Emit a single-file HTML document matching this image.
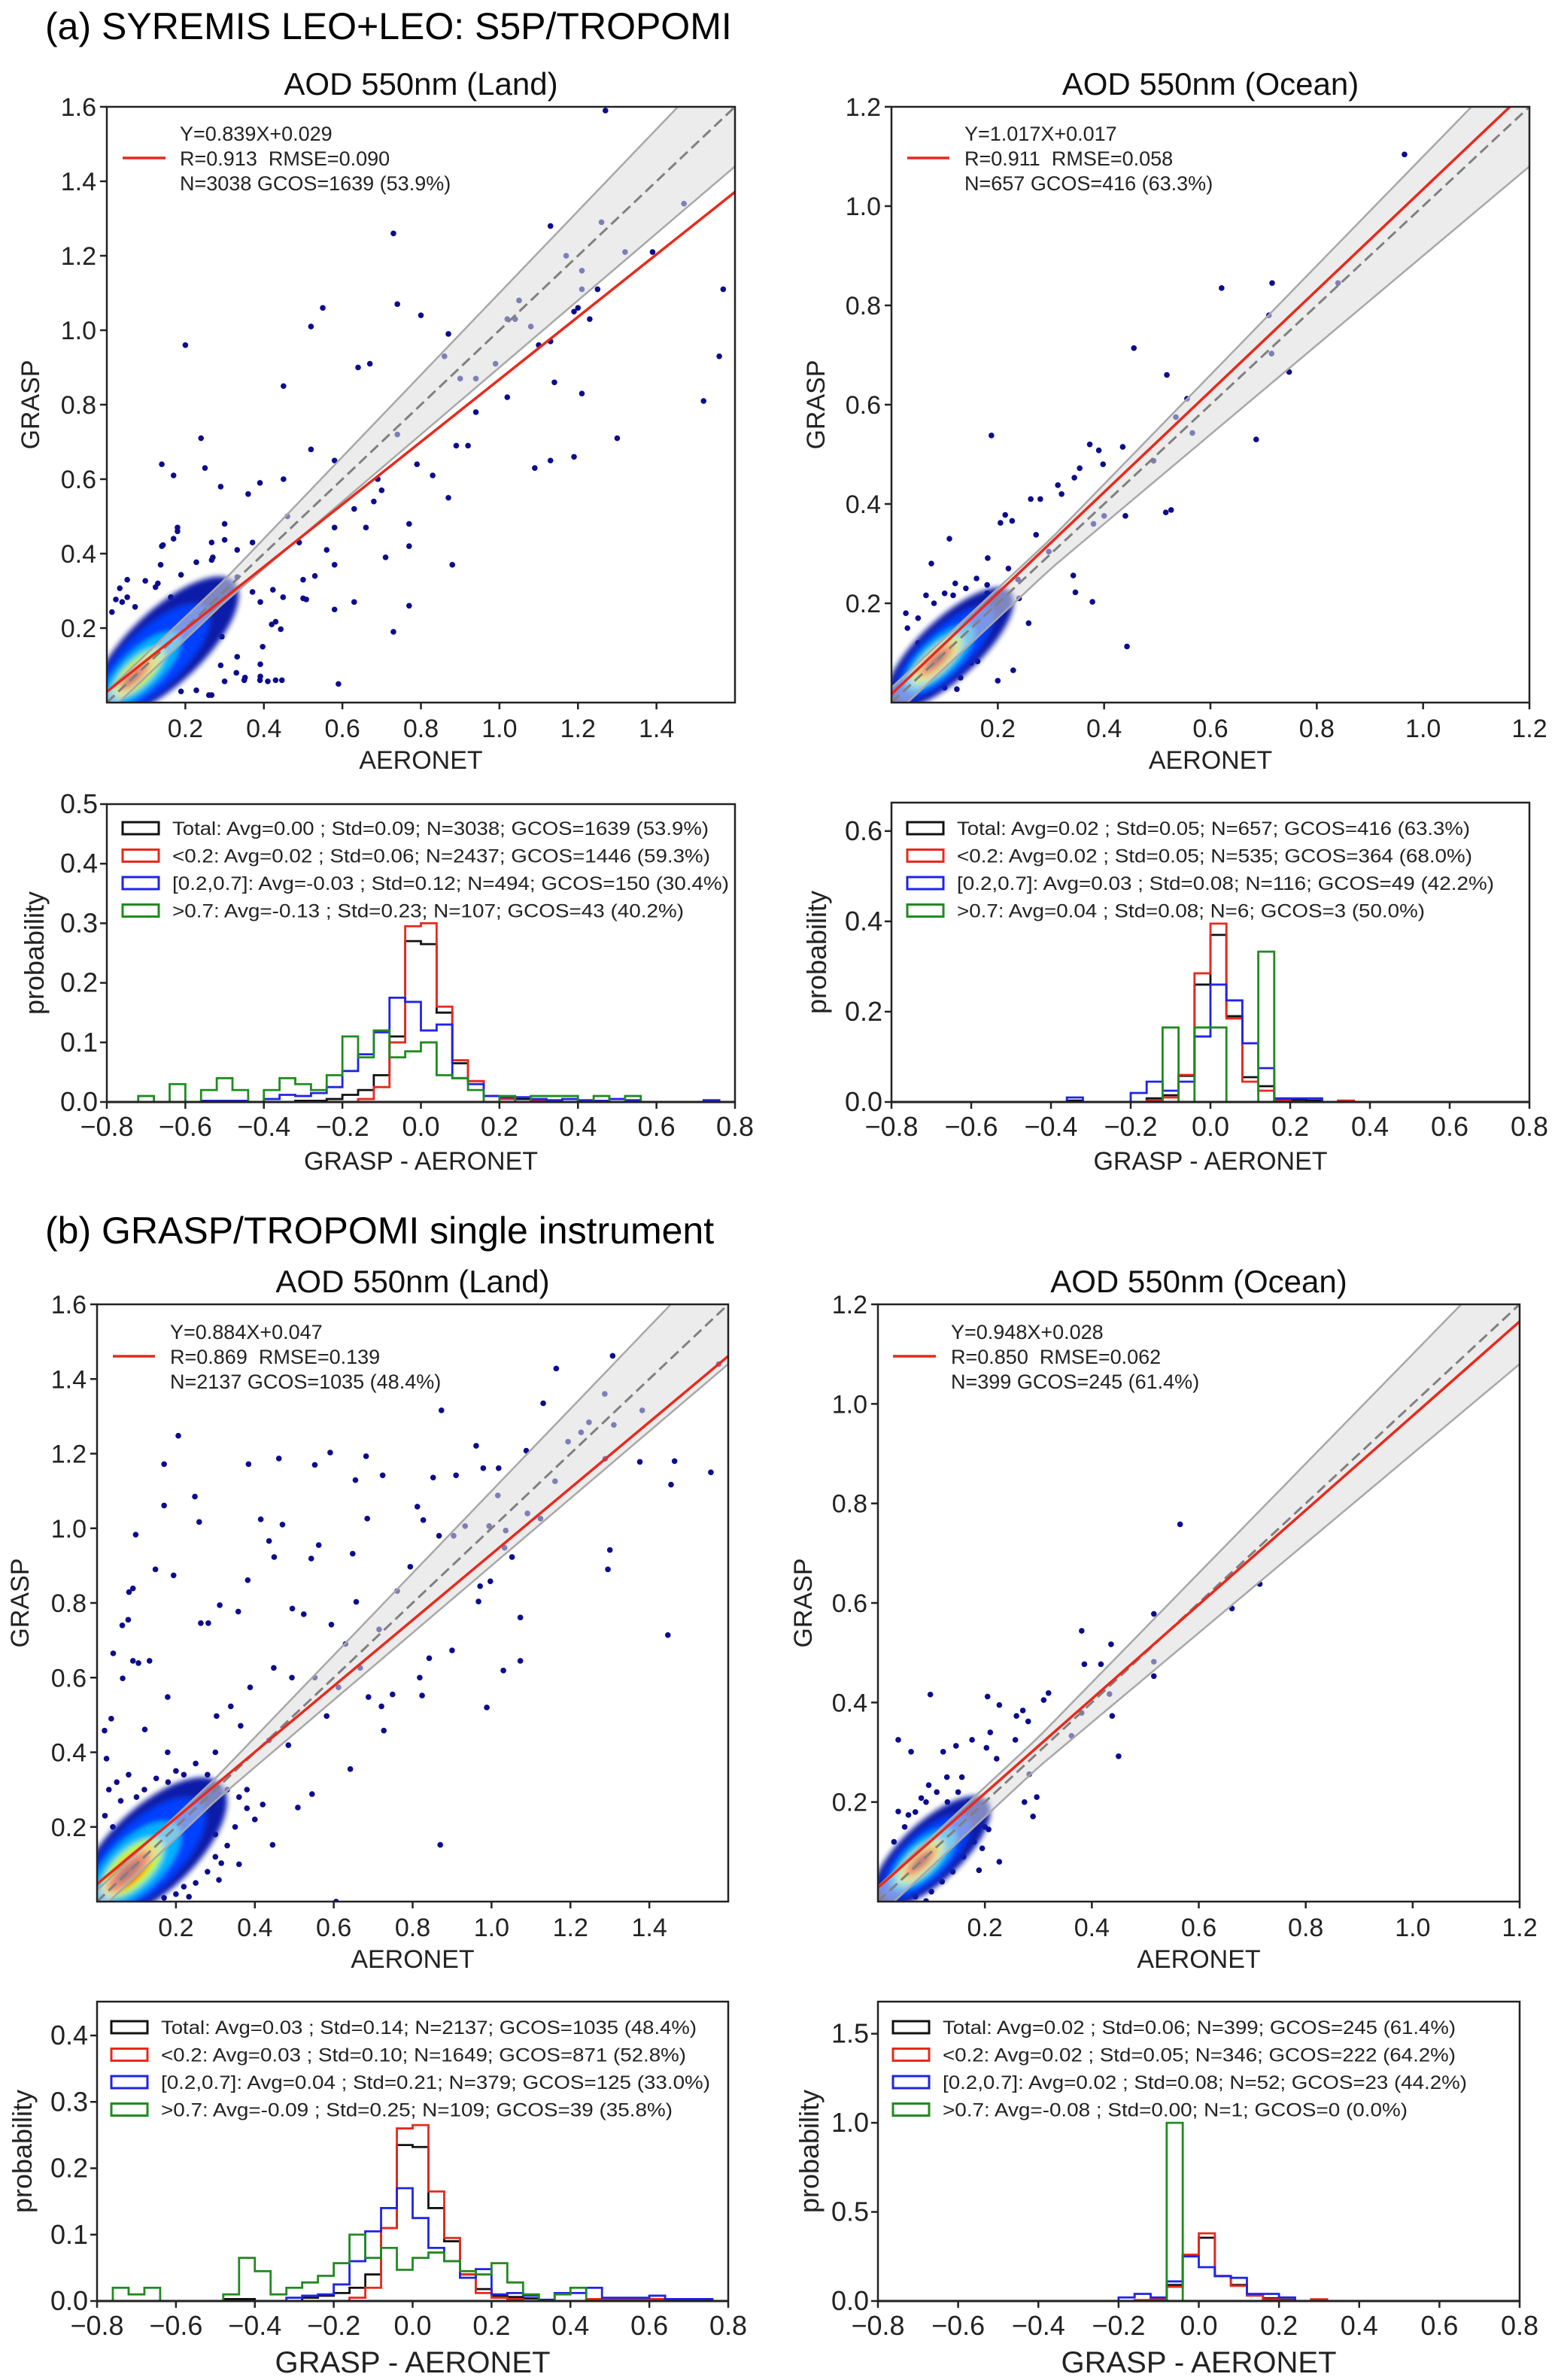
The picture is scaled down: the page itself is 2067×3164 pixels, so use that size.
<!DOCTYPE html>
<html><head><meta charset="utf-8">
<style>
html,body{margin:0;padding:0;background:#fff;}
svg{display:block;font-family:"Liberation Sans",sans-serif;}
</style></head>
<body>
<svg id="fig" width="2067" height="3164" viewBox="0 0 2067 3164" xmlns="http://www.w3.org/2000/svg">
<defs><filter id="blur" x="-20%" y="-20%" width="140%" height="140%"><feGaussianBlur stdDeviation="3.5"/></filter></defs>
<text x="60" y="52" font-size="50" fill="#000">(a) SYREMIS LEO+LEO: S5P/TROPOMI</text>
<text x="60" y="1653" font-size="50" fill="#000">(b) GRASP/TROPOMI single instrument</text>
</svg>
<script>
// ===== scatter data: outlier points (AERONET x, GRASP y) =====
const landA_x=[1.27,1.13,1.26,1.47,1.32,1.39,1.57,1.17,1.21,1.21,1.25,1.05,1.08,1.02,1.04,1.20,1.23,1.19,1.13,1.10,1.56,1.52,1.21,1.14,1.02,1.30,1.09,1.13,1.19,0.73,0.74,0.80,0.55,0.52,0.20,0.64,0.67,0.45,0.87,0.86,0.90,0.94,0.99,0.94,0.24,0.14,0.25,0.17,0.59,0.73,0.77,0.88,0.71,0.77,0.77,0.87,0.92,0.89,0.83,0.79,0.74,0.70,0.68,0.63,0.58,0.58,0.53,0.50,0.50,0.58,0.63,0.42,0.43,0.39,0.35,0.33,0.26,0.29,0.29,0.39,0.45,0.36,0.30,0.27,0.18,0.14,0.13,0.46,0.49,0.56,0.66,0.69,0.58,0.52,
 0.052,0.033,0.023,0.013,0.039,0.098,0.124,0.143,0.17,0.18,0.137,0.189,0.228,0.267,0.267,0.3,0.332,0.371,0.332,0.371,0.391,0.423,0.449,0.508,0.43,0.443,0.397,0.391,0.391,0.41,0.446,0.352,0.3,0.267,0.228,0.189,0.332,0.293,0.254,0.052,0.072,0.241,0.293,0.163];
const landA_y=[1.59,1.28,1.29,1.34,1.21,1.21,1.11,1.20,1.16,1.11,1.11,1.08,1.01,1.03,1.03,1.06,1.03,1.05,0.97,0.96,0.93,0.81,0.83,0.86,0.82,0.71,0.63,0.65,0.66,1.26,1.07,1.04,1.06,1.01,0.96,0.90,0.91,0.85,0.99,0.93,0.87,0.78,0.91,0.87,0.71,0.64,0.63,0.61,0.05,0.19,0.26,0.37,0.39,0.48,0.42,0.55,0.69,0.69,0.61,0.64,0.72,0.57,0.54,0.52,0.47,0.37,0.34,0.33,0.28,0.25,0.27,0.21,0.06,0.06,0.06,0.08,0.02,0.10,0.58,0.59,0.60,0.56,0.48,0.39,0.47,0.42,0.32,0.50,0.43,0.41,0.47,0.60,0.65,0.68,
 0.33,0.307,0.277,0.243,0.27,0.327,0.31,0.423,0.44,0.46,0.37,0.343,0.377,0.383,0.43,0.437,0.41,0.43,0.337,0.297,0.27,0.303,0.283,0.277,0.217,0.197,0.15,0.103,0.07,0.057,0.06,0.067,0.057,0.02,0.033,0.03,0.123,0.177,0.217,0.283,0.257,0.297,0.27,0.283];
const oceanA_x=[0.965,0.716,0.621,0.84,0.71,0.715,0.748,0.456,0.518,0.556,0.535,0.566,0.686,0.493,0.188,0.373,0.39,0.435,0.398,0.354,0.344,0.313,0.32,0.262,0.28,0.214,0.205,0.227,0.109,0.516,0.526,0.40,0.38,0.44,0.342,0.346,0.378,0.443,0.258,0.229,0.20,0.18,0.181,0.075,0.116,0.065,0.027,0.272,0.296,0.238,0.123,0.162,
 0.03,0.05,0.08,0.10,0.12,0.14,0.16,0.18,0.20,0.19,0.17,0.15,0.13,0.10,0.07,0.21,0.22,0.24,0.05];
const oceanA_y=[1.104,0.845,0.835,0.845,0.78,0.703,0.666,0.714,0.66,0.612,0.575,0.543,0.53,0.487,0.538,0.52,0.508,0.515,0.48,0.472,0.453,0.438,0.42,0.41,0.41,0.378,0.362,0.366,0.33,0.383,0.388,0.376,0.36,0.376,0.256,0.222,0.203,0.113,0.16,0.065,0.044,0.237,0.291,0.28,0.216,0.216,0.18,0.338,0.304,0.248,0.027,0.083,
 0.15,0.17,0.20,0.22,0.24,0.23,0.25,0.22,0.20,0.15,0.12,0.08,0.05,0.03,0.02,0.18,0.27,0.21,0.12];
const landB_x=[1.307,1.164,1.576,1.287,1.131,1.382,0.873,1.247,1.31,1.227,1.288,1.088,1.194,1.376,1.464,1.556,1.455,0.961,0.979,1.018,1.161,0.91,0.852,0.812,0.827,0.867,0.904,0.933,0.994,1.016,1.091,1.124,1.036,1.033,1.052,1.3,1.295,0.997,0.971,0.967,1.073,1.073,1.03,0.988,1.447,0.87,0.9,0.761,0.794,0.715,0.657,0.685,0.724,0.682,0.591,0.552,0.655,0.461,0.384,0.47,0.436,0.449,0.543,0.562,0.648,0.415,0.206,0.17,0.248,0.259,0.098,0.17,0.148,0.194,0.091,0.081,0.064,0.079,0.263,0.282,0.311,0.382,0.358,0.495,0.524,0.041,0.065,0.091,0.133,0.105,0.179,0.019,0.036,0.024,0.121,0.179,0.315,0.309,0.233,0.445,0.606,0.509,0.545,0.642,0.727,0.749,0.824,0.818,0.842,0.721,0.688,0.612,0.552,0.494,0.448,0.388,0.339,0.303,0.364,0.436,0.485,0.582,0.667,0.63,0.594,
 0.02,0.03,0.05,0.08,0.12,0.15,0.18,0.2,0.22,0.25,0.28,0.3,0.33,0.36,0.38,0.4,0.35,0.33,0.3,0.28,0.25,0.22,0.2,0.17,0.3,0.27,0.38,0.42,0.36,0.26,0.1,0.06,0.04];
const landB_y=[1.462,1.428,1.44,1.36,1.335,1.316,1.316,1.284,1.277,1.257,1.186,1.208,1.232,1.178,1.18,1.15,1.117,1.221,1.161,1.161,1.126,1.142,1.136,1.058,1.022,0.98,0.98,1.006,1.006,1.088,1.04,1.026,0.994,0.948,0.923,0.942,0.89,0.858,0.845,0.804,0.761,0.645,0.619,0.52,0.714,0.152,0.673,0.832,0.897,0.729,0.803,1.026,1.142,1.193,1.203,1.17,1.129,1.187,1.172,1.01,0.966,0.923,0.919,0.955,0.932,1.024,1.248,1.172,1.085,1.017,0.983,1.061,0.89,0.874,0.839,0.829,0.74,0.755,0.746,0.746,0.794,0.861,0.777,0.785,0.77,0.665,0.598,0.645,0.645,0.639,0.548,0.458,0.49,0.383,0.461,0.4,0.103,0.058,0.013,0.152,0.0,0.252,0.288,0.355,0.458,0.555,0.552,0.6,0.652,0.523,0.548,0.574,0.6,0.6,0.626,0.574,0.523,0.497,0.471,0.432,0.419,0.497,0.626,0.69,0.742,
 0.23,0.3,0.32,0.34,0.3,0.33,0.32,0.35,0.34,0.37,0.34,0.4,0.3,0.28,0.25,0.22,0.2,0.15,0.12,0.08,0.05,0.04,0.02,0.01,0.18,0.2,0.3,0.26,0.1,0.28,0.28,0.27,0.2];
const oceanB_x=[0.565,0.714,0.662,0.516,0.516,0.516,0.381,0.436,0.386,0.417,0.433,0.438,0.45,0.098,0.205,0.227,0.319,0.31,0.271,0.259,0.281,0.362,0.381,0.038,0.062,0.122,0.146,0.203,0.21,0.176,0.257,0.222,0.283,0.297,0.29,0.274,0.227,0.189,0.207,0.195,0.038,0.057,0.09,0.176,0.157,0.129,0.095,0.081,
 0.03,0.05,0.07,0.09,0.11,0.13,0.15,0.17,0.19,0.18,0.16,0.14,0.12,0.10,0.07,0.20,0.16,0.06];
const oceanB_y=[0.758,0.638,0.589,0.578,0.482,0.453,0.544,0.517,0.477,0.477,0.417,0.373,0.292,0.416,0.412,0.395,0.419,0.405,0.384,0.373,0.362,0.333,0.379,0.325,0.301,0.301,0.313,0.309,0.34,0.325,0.325,0.287,0.256,0.21,0.171,0.2,0.08,0.063,0.145,0.107,0.181,0.174,0.001,0.198,0.25,0.25,0.234,0.208,
 0.12,0.15,0.18,0.20,0.22,0.20,0.22,0.20,0.17,0.12,0.09,0.06,0.04,0.02,0.01,0.15,0.14,0.10];
// density cloud layers: centre on 1:1 line, half-length, half-width (data units)
const landA_cloudC=[0.15,0.12,0.09,0.08,0.075,0.07,0.065];
const landA_cloudL=[0.17,0.13,0.09,0.06,0.045,0.035,0.02];
const landA_cloudW=[0.14,0.11,0.075,0.05,0.035,0.025,0.013];
const oceanA_cloudC=[0.11,0.10,0.09,0.085,0.085,0.085,0.085];
const oceanA_cloudL=[0.11,0.085,0.06,0.045,0.035,0.028,0.015];
const oceanA_cloudW=[0.085,0.065,0.05,0.035,0.028,0.02,0.012];
const landB_cloudC=[0.14,0.12,0.10,0.09,0.085,0.08,0.08];
const landB_cloudL=[0.17,0.14,0.10,0.07,0.06,0.05,0.03];
const landB_cloudW=[0.16,0.13,0.10,0.07,0.05,0.04,0.02];
const oceanB_cloudC=[0.10,0.09,0.085,0.08,0.08,0.08,0.08];
const oceanB_cloudL=[0.10,0.075,0.055,0.04,0.032,0.025,0.014];
const oceanB_cloudW=[0.085,0.065,0.05,0.035,0.027,0.02,0.011];
// regression fits
const fitSlope=[0.839,1.017,0.884,0.948];
const fitIntercept=[0.029,0.017,0.047,0.028];
const fitText=[["Y=0.839X+0.029","R=0.913\u00a0\u00a0RMSE=0.090","N=3038 GCOS=1639 (53.9%)"],
 ["Y=1.017X+0.017","R=0.911\u00a0\u00a0RMSE=0.058","N=657 GCOS=416 (63.3%)"],
 ["Y=0.884X+0.047","R=0.869\u00a0\u00a0RMSE=0.139","N=2137 GCOS=1035 (48.4%)"],
 ["Y=0.948X+0.028","R=0.850\u00a0\u00a0RMSE=0.062","N=399 GCOS=245 (61.4%)"]];
const landTicks=[0.2,0.4,0.6,0.8,1.0,1.2,1.4];
const landYTicks=[0.2,0.4,0.6,0.8,1.0,1.2,1.4,1.6];
const oceanTicks=[0.2,0.4,0.6,0.8,1.0,1.2];
// ===== histogram data (40 bins of 0.04 from -0.8) =====
const binStart=-0.8, binWidth=0.04;
const hA_land_black=[0,0,0,0,0,0,0,0,0,0, 0,0,0.002,0.002,0.005,0.012,0.02,0.045,0.11,0.27, 0.265,0.15,0.065,0.035,0.01,0.008,0.005,0,0,0, 0,0,0,0,0,0,0,0,0,0];
const hA_land_red=[0,0,0,0,0,0,0,0,0,0, 0,0,0,0,0,0,0.005,0.025,0.10,0.295, 0.30,0.16,0.07,0.035,0.01,0.005,0,0.003,0,0, 0,0,0,0,0,0,0,0,0,0];
const hA_land_blue=[0,0,0,0,0,0,0.002,0.002,0.002,0, 0.005,0.012,0.01,0.015,0.025,0.052,0.08,0.117,0.175,0.168, 0.12,0.13,0.04,0.03,0.01,0.008,0.008,0.005,0.003,0.005, 0.003,0.002,0.005,0.003,0,0,0,0,0.003,0];
const hA_land_green=[0,0,0.01,0,0.03,0,0.02,0.04,0.02,0, 0.02,0.04,0.03,0.02,0.045,0.11,0.075,0.12,0.075,0.085, 0.10,0.045,0.04,0.02,0,0.01,0,0.01,0.01,0.01, 0,0.01,0,0.01,0,0,0,0,0,0];
const hA_ocean_black=[0,0,0,0,0,0,0,0,0,0, 0,0.003,0,0,0,0,0.008,0.015,0.058,0.26, 0.37,0.19,0.055,0.035,0.005,0.005,0.003,0,0,0, 0,0,0,0,0,0,0,0,0,0];
const hA_ocean_red=[0,0,0,0,0,0,0,0,0,0, 0,0,0,0,0,0,0.003,0.01,0.06,0.285, 0.395,0.185,0.045,0.025,0.003,0,0,0,0.003,0, 0,0,0,0,0,0,0,0,0,0];
const hA_ocean_blue=[0,0,0,0,0,0,0,0,0,0, 0,0.01,0,0,0,0.02,0.045,0.025,0.045,0.145, 0.26,0.225,0.13,0.075,0.008,0.008,0.008,0,0,0, 0,0,0,0,0,0,0,0,0,0];
const hA_ocean_green=[0,0,0,0,0,0,0,0,0,0, 0,0,0,0,0,0,0,0.165,0,0.165, 0.165,0,0,0.333,0,0,0,0,0,0, 0,0,0,0,0,0,0,0,0,0];
const hB_land_black=[0,0,0,0,0,0,0,0,0.003,0.003, 0,0,0,0.005,0.008,0.012,0.02,0.04,0.11,0.235, 0.232,0.14,0.09,0.04,0.018,0.008,0.006,0.004,0,0, 0,0,0,0,0,0,0,0,0,0];
const hB_land_red=[0,0,0,0,0,0,0,0,0,0, 0,0,0,0,0,0,0.005,0.02,0.11,0.26, 0.265,0.165,0.095,0.04,0.012,0.005,0.003,0,0,0, 0,0.003,0.003,0.003,0.003,0.003,0.003,0,0,0];
const hB_land_blue=[0,0,0,0,0,0,0,0,0,0, 0,0,0.005,0.008,0.01,0.025,0.06,0.105,0.14,0.17, 0.125,0.08,0.06,0.035,0.048,0.01,0.012,0.008,0.002,0.012, 0.012,0.02,0.005,0.005,0.005,0.008,0.003,0.003,0.003,0];
const hB_land_green=[0,0.02,0.01,0.02,0,0,0,0,0.01,0.065, 0.045,0.01,0.02,0.028,0.038,0.057,0.1,0.065,0.08,0.047, 0.065,0.073,0.06,0.045,0.04,0.057,0.028,0.01,0,0.01, 0.02,0,0,0,0,0,0,0,0,0];
const hB_ocean_black=[0,0,0,0,0,0,0,0,0,0, 0,0,0,0,0,0,0,0.01,0.09,0.26, 0.355,0.14,0.09,0.035,0.015,0.008,0,0,0,0, 0,0,0,0,0,0,0,0,0,0];
const hB_ocean_red=[0,0,0,0,0,0,0,0,0,0, 0,0,0,0,0,0,0.005,0.01,0.08,0.26, 0.38,0.14,0.085,0.03,0.01,0.005,0,0.01,0,0, 0,0,0,0,0,0,0,0,0,0];
const hB_ocean_blue=[0,0,0,0,0,0,0,0,0,0, 0,0,0,0,0,0.02,0.04,0.02,0.11,0.25, 0.19,0.14,0.13,0.04,0.04,0.02,0,0,0,0, 0,0,0,0,0,0,0,0,0,0];
const hB_ocean_green=[0,0,0,0,0,0,0,0,0,0, 0,0,0,0,0,0,0,0,1.0,0, 0,0,0,0,0,0,0,0,0,0, 0,0,0,0,0,0,0,0,0,0];
const histXTicks=[-0.8,-0.6,-0.4,-0.2,0.0,0.2,0.4,0.6,0.8];
const hA_land_yTicks=[0.0,0.1,0.2,0.3,0.4,0.5];
const hA_ocean_yTicks=[0.0,0.2,0.4,0.6];
const hB_land_yTicks=[0.0,0.1,0.2,0.3,0.4];
const hB_ocean_yTicks=[0.0,0.5,1.0,1.5];
const legA_land=["Total: Avg=0.00 ; Std=0.09; N=3038; GCOS=1639 (53.9%)","<0.2: Avg=0.02 ; Std=0.06; N=2437; GCOS=1446 (59.3%)","[0.2,0.7]: Avg=-0.03 ; Std=0.12; N=494; GCOS=150 (30.4%)",">0.7: Avg=-0.13 ; Std=0.23; N=107; GCOS=43 (40.2%)"];
const legA_ocean=["Total: Avg=0.02 ; Std=0.05; N=657; GCOS=416 (63.3%)","<0.2: Avg=0.02 ; Std=0.05; N=535; GCOS=364 (68.0%)","[0.2,0.7]: Avg=0.03 ; Std=0.08; N=116; GCOS=49 (42.2%)",">0.7: Avg=0.04 ; Std=0.08; N=6; GCOS=3 (50.0%)"];
const legB_land=["Total: Avg=0.03 ; Std=0.14; N=2137; GCOS=1035 (48.4%)","<0.2: Avg=0.03 ; Std=0.10; N=1649; GCOS=871 (52.8%)","[0.2,0.7]: Avg=0.04 ; Std=0.21; N=379; GCOS=125 (33.0%)",">0.7: Avg=-0.09 ; Std=0.25; N=109; GCOS=39 (35.8%)"];
const legB_ocean=["Total: Avg=0.02 ; Std=0.06; N=399; GCOS=245 (61.4%)","<0.2: Avg=0.02 ; Std=0.05; N=346; GCOS=222 (64.2%)","[0.2,0.7]: Avg=0.02 ; Std=0.08; N=52; GCOS=23 (44.2%)",">0.7: Avg=-0.08 ; Std=0.00; N=1; GCOS=0 (0.0%)"];

const NS="http://www.w3.org/2000/svg";
const svg=document.getElementById('fig');
function el(tag,attrs,parent){const e=document.createElementNS(NS,tag);for(const k in attrs)e.setAttribute(k,attrs[k]);(parent||svg).appendChild(e);return e;}
function fmt(v,d){let s=v.toFixed(d);if(v<0)s="\u2212"+(-v).toFixed(d);return s;}
const cloudColors=["#0a1aa8","#0040ff","#00b4ff","#a8ff50","#ffd000","#ff3000","#8a0000"];
let clipId=0;

function scatter(o){
  const g=el('g',{});
  
  
  const X=v=>o.l+(v-0)/(o.max)*(o.r-o.l);
  const Y=v=>o.b-(v-0)/(o.max)*(o.b-o.t);
  const cid='clip'+(clipId++);
  const cp=el('clipPath',{id:cid},g);el('rect',{x:o.l,y:o.t,width:o.r-o.l,height:o.b-o.t},cp);
  const inner=el('g',{'clip-path':'url(#'+cid+')'},g);
  for(let i=0;i<o.px.length;i++){
    const c=el('circle',{cx:X(o.px[i]),cy:Y(o.py[i]),r:3.8,fill:'#0c0c8e'},inner);
    
    
  }
  const cg=el('g',{filter:'url(#blur)'},inner);
  for(let i=0;i<o.cC.length;i++){
    const cx=X(o.cC[i]),cy=Y(o.cC[i]);
    const rx=o.cL[i]*(o.r-o.l)/o.max*Math.SQRT2, ry=o.cW[i]*(o.b-o.t)/o.max/Math.SQRT2;
    const ang=-Math.atan((o.b-o.t)/(o.r-o.l))*180/Math.PI;
    const e=el('ellipse',{cx:cx,cy:cy,rx:rx,ry:ry,fill:cloudColors[i],transform:`rotate(${ang} ${cx} ${cy})`},cg);
    
    
  }
  const N=60;let up=[],lo=[];
  for(let k=0;k<=N;k++){const x=o.max*1.1*k/N;const d=Math.max(0.03,0.1*x);up.push([X(x),Y(x+d)]);lo.push([X(x),Y(x-d)]);}
  const poly=up.concat(lo.slice().reverse()).map(p=>p.join(',')).join(' ');
  const env=el('polygon',{points:poly,fill:'#dcdcdc','fill-opacity':0.55,stroke:'none'},inner);
  
  
  el('polyline',{points:up.map(p=>p.join(',')).join(' '),fill:'none',stroke:'#a8a8a8','stroke-width':2.5},inner);
  el('polyline',{points:lo.map(p=>p.join(',')).join(' '),fill:'none',stroke:'#a8a8a8','stroke-width':2.5},inner);
  const one=el('line',{x1:X(0),y1:Y(0),x2:X(o.max),y2:Y(o.max),stroke:'#808080','stroke-width':3,'stroke-dasharray':'14,7'},inner);
  
  
  const fl=el('line',{x1:X(0),y1:Y(o.b0),x2:X(o.max),y2:Y(o.b0+o.a*o.max),stroke:'#e8291c','stroke-width':3.5},inner);
  
  
  el('rect',{x:o.l,y:o.t,width:o.r-o.l,height:o.b-o.t,fill:'none',stroke:'#222','stroke-width':2.5},g);
  o.xt.forEach(v=>{el('line',{x1:X(v),x2:X(v),y1:o.b,y2:o.b+9,stroke:'#222','stroke-width':2.5},g);
    const t=el('text',{x:X(v),y:o.b+46,'font-size':34,'text-anchor':'middle',fill:'#222'},g);t.textContent=v.toFixed(1);
    });
  o.yt.forEach(v=>{el('line',{x1:o.l-9,x2:o.l,y1:Y(v),y2:Y(v),stroke:'#222','stroke-width':2.5},g);
    const t=el('text',{x:o.l-14,y:Y(v)+12,'font-size':34,'text-anchor':'end',fill:'#222'},g);t.textContent=v.toFixed(1);
    });
  const xl=el('text',{x:(o.l+o.r)/2,y:o.b+88,'font-size':34,'text-anchor':'middle',fill:'#222'},g);xl.textContent='AERONET';
  
  const yl=el('text',{x:o.gx,y:(o.t+o.b)/2,'font-size':34,'text-anchor':'middle',fill:'#222',transform:`rotate(-90 ${o.gx} ${(o.t+o.b)/2})`},g);yl.textContent='GRASP';
  
  const ti=el('text',{x:(o.l+o.r)/2,y:o.t-16,'font-size':42,'text-anchor':'middle',fill:'#111'},g);ti.textContent=o.title;
  
  const lg=el('line',{x1:o.lx1,x2:o.lx2,y1:o.ly,y2:o.ly,stroke:'#e8291c','stroke-width':3.5},g);
  
  o.txt.forEach((s,i)=>{const t=el('text',{x:o.tx,y:o.ly-33+i*33+10,'font-size':27,fill:'#222'},g);t.textContent=s;
    });
}

function hist(o){
  const g=el('g',{});
  
  
  const X=v=>o.l+(v+0.8)/1.6*(o.r-o.l);
  const Y=v=>o.b-v/o.ymax*(o.b-o.t);
  const cols=['#111','#e8291c','#1f24e6','#218a21'];
  o.series.forEach((arr,si)=>{
    let d=`M${X(binStart)},${Y(0)}`;
    arr.forEach((v,i)=>{const x0=binStart+i*binWidth;d+=` L${X(x0)},${Y(v)} L${X(x0+binWidth)},${Y(v)}`;});
    d+=` L${X(binStart+arr.length*binWidth)},${Y(0)}`;
    const p=el('path',{d:d,fill:'none',stroke:cols[si],'stroke-width':2.8,'stroke-linejoin':'miter'},g);
    
    
  });
  el('line',{x1:o.l,x2:o.r,y1:o.b,y2:o.b,stroke:'#111','stroke-width':3},g);
  el('rect',{x:o.l,y:o.t,width:o.r-o.l,height:o.b-o.t,fill:'none',stroke:'#222','stroke-width':2.5},g);
  histXTicks.forEach(v=>{el('line',{x1:X(v),x2:X(v),y1:o.b,y2:o.b+9,stroke:'#222','stroke-width':2.5},g);
    const t=el('text',{x:X(v),y:o.b+45,'font-size':36,'text-anchor':'middle',fill:'#222'},g);t.textContent=fmt(v,1);
    });
  o.yt.forEach(v=>{el('line',{x1:o.l-9,x2:o.l,y1:Y(v),y2:Y(v),stroke:'#222','stroke-width':2.5},g);
    const t=el('text',{x:o.l-12,y:Y(v)+12,'font-size':36,'text-anchor':'end',fill:'#222'},g);t.textContent=v.toFixed(1);
    });
  const xl=el('text',{x:(o.l+o.r)/2,y:o.xly,'font-size':o.xls,'text-anchor':'middle',fill:'#222'},g);xl.textContent='GRASP - AERONET';
  
  const cy=(o.t+o.b)/2;
  const yl=el('text',{x:o.gx,y:cy,'font-size':36,'text-anchor':'middle',fill:'#222',transform:`rotate(-90 ${o.gx} ${cy})`},g);yl.textContent='probability';
  
  o.leg.forEach((s,i)=>{const y=o.ly0+i*36.5;
    const r=el('rect',{x:o.bx,y:y-8,width:48,height:16,fill:'none',stroke:cols[i],'stroke-width':3},g);
    
    const t=el('text',{x:o.bx+66,y:y+9,'font-size':25,fill:'#222',textLength:o.tl[i],lengthAdjust:'spacingAndGlyphs'},g);t.textContent=s;
    });
}

scatter({name:'scatter-a-land',l:142,r:977,t:142,b:934,max:1.6,px:landA_x,py:landA_y,cC:landA_cloudC,cL:landA_cloudL,cW:landA_cloudW,a:fitSlope[0],b0:fitIntercept[0],xt:landTicks,yt:landYTicks,gx:52,title:'AOD 550nm (Land)',lx1:163,lx2:220,ly:210,tx:239,txt:fitText[0]});
scatter({name:'scatter-a-ocean',l:1185,r:2033,t:142,b:934,max:1.2,px:oceanA_x,py:oceanA_y,cC:oceanA_cloudC,cL:oceanA_cloudL,cW:oceanA_cloudW,a:fitSlope[1],b0:fitIntercept[1],xt:oceanTicks,yt:oceanTicks,gx:1096,title:'AOD 550nm (Ocean)',lx1:1206,lx2:1262,ly:210,tx:1282,txt:fitText[1]});
scatter({name:'scatter-b-land',l:129,r:968,t:1734,b:2528,max:1.6,px:landB_x,py:landB_y,cC:landB_cloudC,cL:landB_cloudL,cW:landB_cloudW,a:fitSlope[2],b0:fitIntercept[2],xt:landTicks,yt:landYTicks,gx:38,title:'AOD 550nm (Land)',lx1:150,lx2:206,ly:1803,tx:226,txt:fitText[2]});
scatter({name:'scatter-b-ocean',l:1167,r:2020,t:1734,b:2528,max:1.2,px:oceanB_x,py:oceanB_y,cC:oceanB_cloudC,cL:oceanB_cloudL,cW:oceanB_cloudW,a:fitSlope[3],b0:fitIntercept[3],xt:oceanTicks,yt:oceanTicks,gx:1079,title:'AOD 550nm (Ocean)',lx1:1187,lx2:1244,ly:1803,tx:1264,txt:fitText[3]});

hist({name:'hist-a-land',l:142,r:977,t:1069,b:1465,ymax:0.5,series:[hA_land_black,hA_land_red,hA_land_blue,hA_land_green],yt:hA_land_yTicks,leg:legA_land,bx:163,ly0:1101,tl:[713,715,740,680],gx:58,xly:1555,xls:34});
hist({name:'hist-a-ocean',l:1185,r:2033,t:1067,b:1465,ymax:0.663,series:[hA_ocean_black,hA_ocean_red,hA_ocean_blue,hA_ocean_green],yt:hA_ocean_yTicks,leg:legA_ocean,bx:1206,ly0:1101,tl:[682,685,714,622],gx:1098,xly:1555,xls:34});
hist({name:'hist-b-land',l:129,r:968,t:2661,b:3059,ymax:0.451,series:[hB_land_black,hB_land_red,hB_land_blue,hB_land_green],yt:hB_land_yTicks,leg:legB_land,bx:148,ly0:2695,tl:[712,698,730,680],gx:42,xly:3154,xls:40});
hist({name:'hist-b-ocean',l:1167,r:2020,t:2661,b:3059,ymax:1.68,series:[hB_ocean_black,hB_ocean_red,hB_ocean_blue,hB_ocean_green],yt:hB_ocean_yTicks,leg:legB_ocean,bx:1187,ly0:2695,tl:[682,682,697,618],gx:1088,xly:3154,xls:40});
</script>
</body></html>
